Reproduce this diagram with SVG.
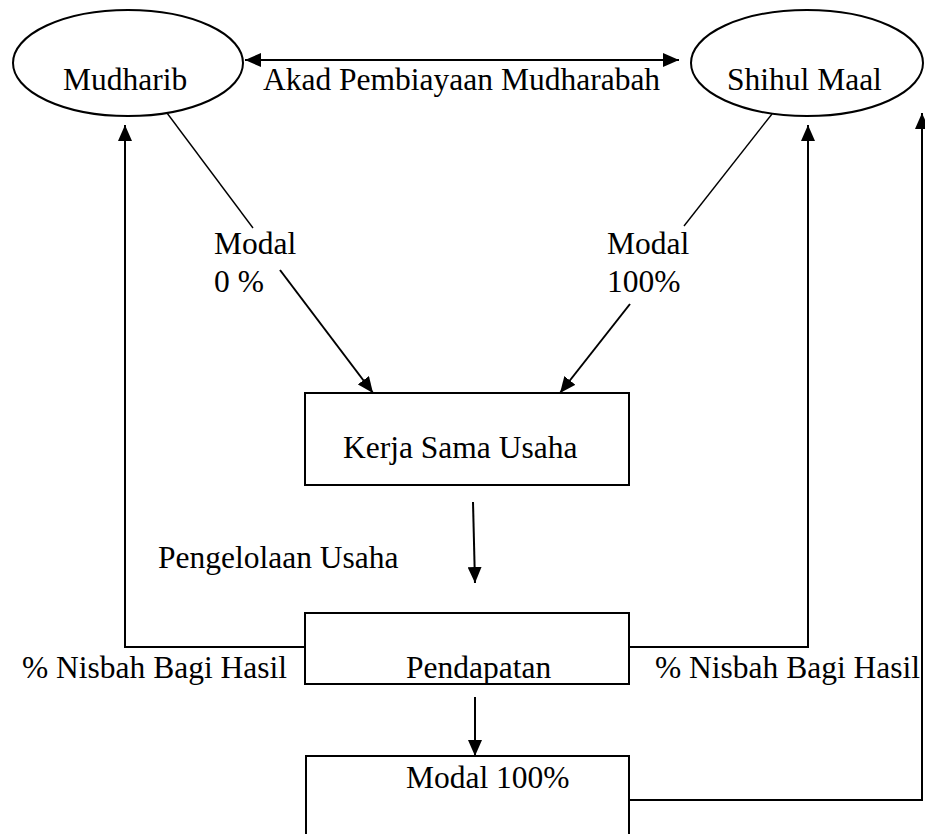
<svg xmlns="http://www.w3.org/2000/svg" width="925" height="834" viewBox="0 0 925 834">
<style>
text{font-family:"Liberation Serif","Times New Roman",serif;font-size:31.5px;fill:#000}
.shape{fill:#fff;stroke:#000;stroke-width:2}
.thin{fill:none;stroke:#000;stroke-width:1.4}
.con{fill:none;stroke:#000;stroke-width:2}
</style>
<defs>
<marker id="ah" viewBox="0 0 16 14" refX="16" refY="7" markerWidth="16" markerHeight="14" markerUnits="userSpaceOnUse" orient="auto-start-reverse">
<path d="M0,0 L16,7 L0,14 Z" fill="#000"/>
</marker>
</defs>
<rect width="925" height="834" fill="#fff"/>
<g id="mudharib">
<ellipse class="shape" cx="128" cy="63" rx="115" ry="53"/>
<text x="63" y="90">Mudharib</text>
</g>
<g id="shihul-maal">
<ellipse class="shape" cx="807" cy="63" rx="116" ry="53"/>
<text x="727" y="90">Shihul Maal</text>
</g>
<g id="kerja-sama-usaha">
<rect class="shape" x="305" y="393" width="324" height="92"/>
<text x="343" y="458">Kerja Sama Usaha</text>
</g>
<g id="pendapatan">
<rect class="shape" x="305" y="613" width="324" height="71"/>
<text x="406" y="678">Pendapatan</text>
</g>
<g id="modal-100">
<rect class="shape" x="306" y="756" width="323" height="100"/>
<text x="406" y="788">Modal 100%</text>
</g>
<g id="connectors">
<line class="con" x1="245" y1="60" x2="679" y2="60" marker-start="url(#ah)" marker-end="url(#ah)"/>
<line class="thin" x1="167" y1="113" x2="253" y2="228"/>
<line class="con" x1="280" y1="270" x2="373" y2="393" marker-end="url(#ah)"/>
<line class="thin" x1="772" y1="114" x2="684" y2="226"/>
<line class="con" x1="630" y1="304" x2="560" y2="393" marker-end="url(#ah)"/>
<line class="con" x1="473" y1="502" x2="475" y2="583" marker-end="url(#ah)"/>
<line class="con" x1="475" y1="697" x2="475" y2="756" marker-end="url(#ah)"/>
<polyline class="con" points="305,647 125,647 125,125" marker-end="url(#ah)"/>
<polyline class="con" points="629,647 808,647 808,125" marker-end="url(#ah)"/>
<polyline class="con" points="629,800 922,800 922,113" marker-end="url(#ah)"/>
</g>
<g id="labels">
<text x="263" y="90">Akad Pembiayaan Mudharabah</text>
<text x="214" y="254">Modal</text>
<text x="214" y="292">0 %</text>
<text x="607" y="254">Modal</text>
<text x="607" y="292">100%</text>
<text x="158" y="568">Pengelolaan Usaha</text>
<text x="22" y="678">% Nisbah Bagi Hasil</text>
<text x="655" y="678">% Nisbah Bagi Hasil</text>
</g>
</svg>
